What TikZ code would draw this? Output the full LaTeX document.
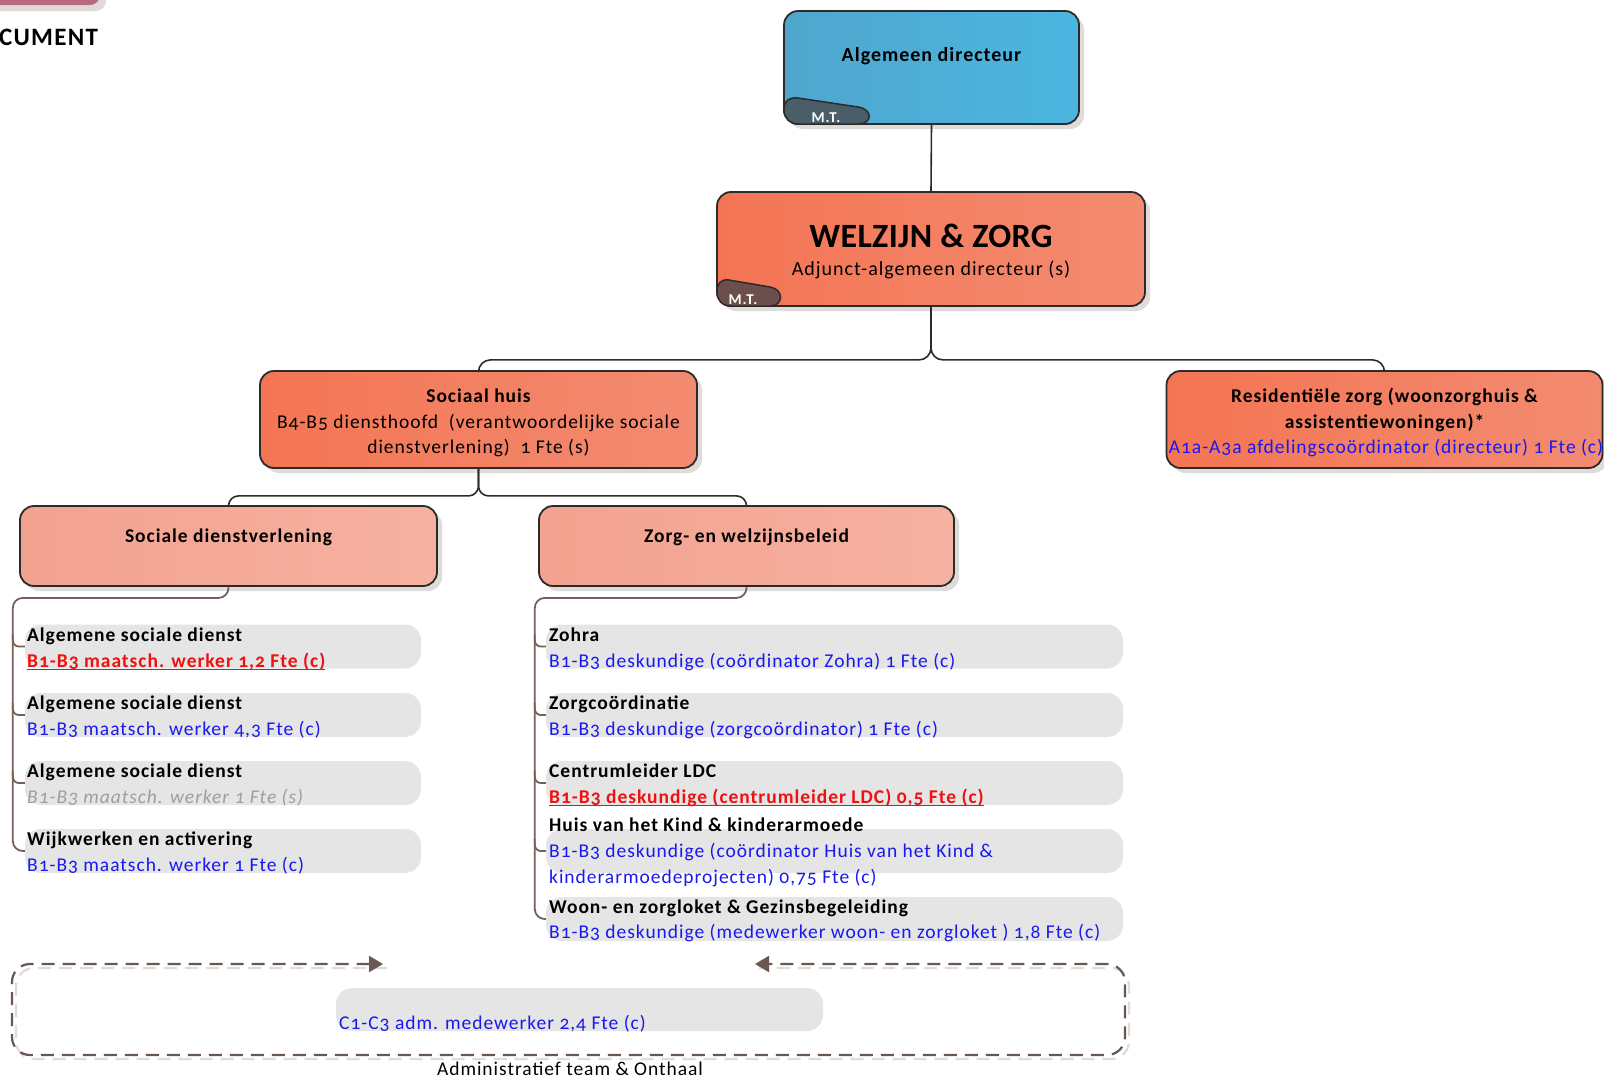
\documentclass[tikz,border=0pt]{standalone}
\usepackage{fontspec}
\setmainfont{Carlito}[Numbers=OldStyle,LetterSpace=5]
\usetikzlibrary{shadows,arrows.meta,calc}
\definecolor{boxline}{HTML}{2B2B2B}
\definecolor{blueL}{HTML}{50A6CD}
\definecolor{blueR}{HTML}{4BB6E0}
\definecolor{coralL}{HTML}{F47554}
\definecolor{coralR}{HTML}{F38B71}
\definecolor{salmL}{HTML}{F4A290}
\definecolor{salmR}{HTML}{F5B1A1}
\definecolor{tabblue}{HTML}{4A5E69}
\definecolor{tabbrown}{HTML}{6C4F4B}
\definecolor{itemgray}{HTML}{E5E5E5}
\definecolor{shadowgray}{HTML}{DEDBD9}
\definecolor{txtblue}{HTML}{1818F0}
\definecolor{txtred}{HTML}{F01010}
\definecolor{txtgray}{HTML}{9E9E9E}
\definecolor{brownline}{HTML}{76615A}
\definecolor{framebrown}{HTML}{6A5850}
\definecolor{mauve}{HTML}{B8687F}
\newcommand\myul[1]{\setbox0=\hbox{#1}\rlap{\rule[-3.4pt]{\wd0}{1.7pt}}\box0}
\begin{document}
\begin{tikzpicture}[x=1pt,y=-1pt,
  bigbox/.style={draw=boxline, line width=1.8pt, rounded corners=14pt, inner sep=0pt,
    drop shadow={shadow xshift=5pt, shadow yshift=-5pt, fill=shadowgray, opacity=1}},
  bluebox/.style={bigbox, left color=blueL, right color=blueR},
  coralbox/.style={bigbox, left color=coralL, right color=coralR},
  salmbox/.style={bigbox, left color=salmL, right color=salmR},
  itemL/.style={fill=itemgray, rounded corners=16pt, inner sep=0pt, minimum height=44pt, minimum width=396pt},
  itemR/.style={fill=itemgray, rounded corners=16pt, inner sep=0pt, minimum height=44pt, minimum width=577pt},
  txt/.style={inner sep=0pt, anchor=base west, font=\fontsize{19.5}{24}\selectfont},
  ctxt/.style={inner sep=0pt, anchor=base, font=\fontsize{19.5}{24}\selectfont},
  ttl/.style={txt, font=\bfseries\fontsize{19.5}{24}\selectfont, text=black},
  cttl/.style={ctxt, font=\bfseries\fontsize{19.5}{24}\selectfont, text=black},
  blu/.style={txt, text=txtblue},
  rd/.style={txt, text=txtred, font=\bfseries\fontsize{19.5}{24}\selectfont},
  gr/.style={txt, text=txtgray, font=\itshape\fontsize{19.5}{24}\selectfont},
  conn/.style={draw=boxline, line width=1.6pt},
  bconn/.style={draw=brownline, line width=1.8pt},
  tabtext/.style={inner sep=0pt, anchor=base, text=white, font=\bfseries\fontsize{15}{16}\selectfont}
]
\useasboundingbox (0,0) rectangle (1604,1080);

% top-left remnant
\fill[shadowgray, rounded corners=10pt] (-25,-25) rectangle (106,11);
\fill[mauve, rounded corners=10pt] (-30,-30) rectangle (100,5);
\node[inner sep=0pt, anchor=base west, font=\bfseries\fontsize{25}{30}\selectfont] (doc) at (-1,45) {CUMENT};

% main boxes
\node[bluebox, minimum width=295pt, minimum height=113pt] (ad) at (931.5,67.5) {};
\node[coralbox, minimum width=428pt, minimum height=114pt] (wz) at (931,249) {};
\node[coralbox, minimum width=437pt, minimum height=97pt] (sh) at (478.5,419.5) {};
\node[coralbox, minimum width=436pt, minimum height=97pt] (rz) at (1384.5,419.5) {};
\node[salmbox, minimum width=417pt, minimum height=80pt] (sd) at (228.5,546) {};
\node[salmbox, minimum width=415pt, minimum height=80pt] (zw) at (746.5,546) {};

% M.T. tabs
\draw[fill=tabblue, draw=boxline, line width=1.5pt]
  (784,110) .. controls (784,100) and (790,97) .. (798,98) -- (858,107)
  .. controls (873,109) and (873,124) .. (858,124) -- (798,124)
  .. controls (790,124) and (784,118) .. (784,110) -- cycle;
\node[tabtext] (mt1) at (826,122.5) {M.T.};
\draw[fill=tabbrown, draw=boxline, line width=1.5pt]
  (717,292) .. controls (717,283) and (721,279) .. (729,280) -- (770,287)
  .. controls (784,289) and (784,306) .. (770,306) -- (731,306)
  .. controls (722,306) and (717,300) .. (717,292) -- cycle;
\node[tabtext] (mt2) at (743,304) {M.T.};

% box texts
\node[cttl, font=\bfseries\fontsize{20}{24}\selectfont] (adt) at (931.5,61) {Algemeen directeur};
\node[cttl, font=\bfseries\fontsize{34}{40}\selectfont\addfontfeature{LetterSpace=1}] (wzt) at (931,247) {WELZIJN \& ZORG};
\node[ctxt, font=\fontsize{20}{24}\selectfont] (wzs) at (931,275) {Adjunct-algemeen directeur (s)};
\node[cttl] (sh1) at (478.5,402) {Sociaal huis};
\node[ctxt] (sh2) at (478.5,428) {B4-B5 diensthoofd\ \ (verantwoordelijke sociale};
\node[ctxt] (sh3) at (478.5,453) {dienstverlening)\ \ 1 Fte (s)};
\node[cttl] (rz1) at (1384.5,402) {Residentiële zorg (woonzorghuis \&};
\node[cttl] (rz2) at (1384.5,428) {assistentiewoningen)*};
\node[ctxt, text=txtblue] (rz3) at (1386,453) {A1a-A3a afdelingscoördinator (directeur) 1 Fte (c)};
\node[cttl] (sdt) at (228.5,542) {Sociale dienstverlening};
\node[cttl] (zwt) at (746.5,542) {Zorg- en welzijnsbeleid};

% main connectors
\draw[conn] (ad.south) -- (wz.north);
\draw[conn, rounded corners=12pt] (wz.south) -- ++(0,53) -| (sh.north);
\draw[conn, rounded corners=12pt] (wz.south) -- ++(0,53) -| (rz.north);
\draw[conn, rounded corners=10pt] (sh.south) -- ++(0,27) -| (sd.north);
\draw[conn, rounded corners=10pt] (sh.south) -- ++(0,27) -| (zw.north);

% left list
\node[itemL] (l1) at (223,646.5) {};
\node[itemL] (l2) at (223,715) {};
\node[itemL] (l3) at (223,783) {};
\node[itemL] (l4) at (223,851) {};
\node[ttl] (l1a) at (27,641) {Algemene sociale dienst};
\node[rd] (l1b) at (27,667) {\myul{B1-B3 maatsch. werker 1,2 Fte (c)}};
\node[ttl] (l2a) at (27,709) {Algemene sociale dienst};
\node[blu] (l2b) at (27,735) {B1-B3 maatsch. werker 4,3 Fte (c)};
\node[ttl] (l3a) at (27,777) {Algemene sociale dienst};
\node[gr] (l3b) at (27,803) {B1-B3 maatsch. werker 1 Fte (s)};
\node[ttl] (l4a) at (27,845) {Wijkwerken en activering};
\node[blu] (l4b) at (27,871) {B1-B3 maatsch. werker 1 Fte (c)};

\draw[bconn, rounded corners=10pt] (sd.south) -- ++(0,11) -| ($(l4.west)+(-12,0)$) -- (l4.west);
\draw[bconn, rounded corners=6pt] ($(l1.west)+(-12,-12)$) |- (l1.west);
\draw[bconn, rounded corners=6pt] ($(l2.west)+(-12,-12)$) |- (l2.west);
\draw[bconn, rounded corners=6pt] ($(l3.west)+(-12,-12)$) |- (l3.west);

% right list
\node[itemR] (r1) at (834.5,646.5) {};
\node[itemR] (r2) at (834.5,715) {};
\node[itemR] (r3) at (834.5,783) {};
\node[itemR] (r4) at (834.5,851) {};
\node[itemR] (r5) at (834.5,919) {};
\node[ttl] (r1a) at (549,641) {Zohra};
\node[blu] (r1b) at (549,667) {B1-B3 deskundige (coördinator Zohra) 1 Fte (c)};
\node[ttl] (r2a) at (549,709) {Zorgcoördinatie};
\node[blu] (r2b) at (549,735) {B1-B3 deskundige (zorgcoördinator) 1 Fte (c)};
\node[ttl] (r3a) at (549,777) {Centrumleider LDC};
\node[rd] (r3b) at (549,803) {\myul{B1-B3 deskundige (centrumleider LDC) 0,5 Fte (c)}};
\node[ttl] (r4a) at (549,831) {Huis van het Kind \& kinderarmoede};
\node[blu] (r4b) at (549,857) {B1-B3 deskundige (coördinator Huis van het Kind \&};
\node[blu] (r4c) at (549,883) {kinderarmoedeprojecten) 0,75 Fte (c)};
\node[ttl] (r5a) at (549,913) {Woon- en zorgloket \& Gezinsbegeleiding};
\node[blu] (r5b) at (549,938) {B1-B3 deskundige (medewerker woon- en zorgloket ) 1,8 Fte (c)};

\draw[bconn, rounded corners=10pt] (zw.south) -- ++(0,11) -| ($(r5.west)+(-11,0)$) -- (r5.west);
\draw[bconn, rounded corners=6pt] ($(r1.west)+(-11,-12)$) |- (r1.west);
\draw[bconn, rounded corners=6pt] ($(r2.west)+(-11,-12)$) |- (r2.west);
\draw[bconn, rounded corners=6pt] ($(r3.west)+(-11,-12)$) |- (r3.west);
\draw[bconn, rounded corners=6pt] ($(r4.west)+(-11,-12)$) |- (r4.west);

% administrative team frame
\coordinate (fa) at (383,964);
\coordinate (fb) at (755,964);
\draw[draw=shadowgray, line width=2.2pt, dash pattern=on 13pt off 8pt, rounded corners=18pt]
  (387,968) -- (16,968) -- (16,1059) -- (1129,1059) -- (1129,968) -- (759,968);
\draw[draw=framebrown, line width=2.2pt, dash pattern=on 13pt off 8pt, rounded corners=18pt,
  {Triangle[length=14pt,width=16pt]}-{Triangle[length=14pt,width=16pt]}]
  (fa) -- (12,964) -- (12,1055) -- (1125,1055) -- (1125,964) -- (fb);
\node[fill=itemgray, rounded corners=16pt, inner sep=0pt, minimum width=487pt, minimum height=43pt] (adm) at (579.5,1009.5) {};
\node[blu] (admt) at (339,1029) {C1-C3 adm. medewerker 2,4 Fte (c)};
\node[ctxt] (admlbl) at (570,1075) {Administratief team \& Onthaal};
\end{tikzpicture}
\end{document}
